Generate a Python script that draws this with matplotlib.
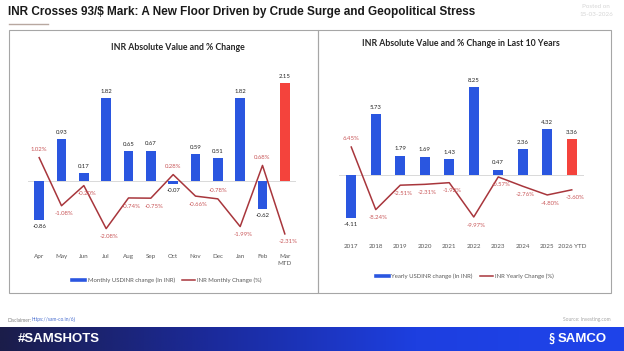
import numpy as np
import matplotlib
matplotlib.use('Agg')
import matplotlib.pyplot as plt
from matplotlib.lines import Line2D
from matplotlib.patches import Rectangle
from matplotlib.colors import LinearSegmentedColormap

# monthly data (FY: Apr -> Mar MTD)
months = ['Apr', 'May', 'Jun', 'Jul', 'Aug', 'Sep', 'Oct', 'Nov', 'Dec', 'Jan', 'Feb', 'Mar\nMTD']
monthly_chg = [-0.86, 0.93, 0.17, 1.82, 0.65, 0.67, -0.07, 0.59, 0.51, 1.82, -0.62, 2.15]
monthly_pct = [1.02, -1.08, -0.20, -2.08, -0.74, -0.75, 0.28, -0.66, -0.78, -1.99, 0.68, -2.31]

# yearly data
years = ['2017', '2018', '2019', '2020', '2021', '2022', '2023', '2024', '2025', '2026 YTD']
yearly_chg = [-4.11, 5.73, 1.79, 1.69, 1.43, 8.25, 0.47, 2.36, 4.32, 3.36]
yearly_pct = [6.45, -8.24, -2.51, -2.31, -1.92, -9.97, -0.57, -2.76, -4.80, -3.60]

# where the % labels sit relative to the line point
monthly_lbl = ['a', 'b', 'b', 'b', 'b', 'b', 'a', 'b', 'a', 'b', 'a', 'b']
yearly_lbl = ['a', 'b', 'b', 'b', 'b', 'b', 'b', 'b', 'b', 'b']

BLUE = '#2a56e0'
RED_BAR = '#f4433c'
LINE = '#a8363c'
LBL_RED = '#c9585a'

plt.rcParams['font.family'] = ['Lato', 'DejaVu Sans']

W, H = 624, 351
def box(x0, y0, x1, y1):
    return [x0 / W, 1 - y1 / H, (x1 - x0) / W, (y1 - y0) / H]

fig = plt.figure(figsize=(6.24, 3.51), dpi=100)

# header
fig.text(8 / W, 1 - 12 / H, 'INR Crosses 93/$ Mark: A New Floor Driven by Crude Surge and Geopolitical Stress',
         fontsize=8.5, fontweight='bold', family='Liberation Sans', color='#1a1a1a', va='center')
fig.add_artist(Line2D([9 / W, 48 / W], [1 - 24 / H, 1 - 24 / H], color='#b8a8a0', lw=1))
fig.text(596 / W, 1 - 7 / H, 'Posted on', fontsize=4.5, color='#d6d6d6', ha='center', va='center')
fig.text(596 / W, 1 - 15 / H, '15-03-2026', fontsize=4.5, color='#d6d6d6', ha='center', va='center')

# panel frames
for x0, x1 in [(9, 318), (318, 611)]:
    fig.add_artist(Rectangle((x0 / W, 1 - 293 / H), (x1 - x0) / W, 263 / H,
                             fill=False, ec='#a6a6a6', lw=0.8, transform=fig.transFigure))


def panel(rect, cats, vals, pcts, lbl_pos, ylim1, ylim2, title, title_xy, leg_names, leg_xy):
    ax = fig.add_axes(rect)
    x = np.arange(len(cats))
    colors = [BLUE] * (len(cats) - 1) + [RED_BAR]
    ax.bar(x, vals, width=0.42, color=colors, zorder=2)
    ax.axhline(0, color='#d9d9d9', lw=0.7, zorder=1)
    for i, v in enumerate(vals):
        ax.annotate(f'{v:.2f}', (i, v), xytext=(0, 3 if v >= 0 else -3), textcoords='offset points',
                    ha='center', va='bottom' if v >= 0 else 'top', fontsize=4.3, color='#262626')
    ax.set_xlim(-0.5, len(cats) - 0.5)
    ax.set_ylim(*ylim1)
    ax.set_xticks(x)
    ax.set_xticklabels(cats, fontsize=4.5, color='#595959', linespacing=1.5)
    ax.tick_params(axis='x', length=0, pad=3)
    ax.set_yticks([])
    for s in ax.spines.values():
        s.set_visible(False)

    ax2 = ax.twinx()
    ax2.plot(x, pcts, color=LINE, lw=1.1, zorder=3)
    for i, p in enumerate(pcts):
        up = lbl_pos[i] == 'a'
        ax2.annotate(f'{p:.2f}%', (i, p), xytext=(2 if not up else 0, 4 if up else -4),
                     textcoords='offset points', ha='center', va='bottom' if up else 'top',
                     fontsize=4.3, color=LBL_RED)
    ax2.set_ylim(*ylim2)
    ax2.set_yticks([])
    for s in ax2.spines.values():
        s.set_visible(False)

    fig.text(title_xy[0] / W, 1 - title_xy[1] / H, title, fontsize=6.3, fontweight='bold',
             color='#262626', ha='center', va='center')
    handles = [Line2D([], [], color=BLUE, lw=2.6), Line2D([], [], color=LINE, lw=1.1)]
    fig.legend(handles, leg_names, loc='center', bbox_to_anchor=(leg_xy[0] / W, 1 - leg_xy[1] / H),
               ncol=2, frameon=False, fontsize=4.3, handlelength=2.2, columnspacing=1.2,
               handletextpad=0.4, labelcolor='#595959')
    return ax


# left: zero at y=181 px, 45.5 px per INR, 22.9 px per %
panel(box(28, 72, 296, 250), months, monthly_chg, monthly_pct, monthly_lbl,
      (-69 / 45.5, 109 / 45.5), (-69 / 22.9, 109 / 22.9),
      'INR Absolute Value and % Change', (178, 47),
      ['Monthly USDINR change (In INR)', 'INR Monthly Change (%)'], (167, 280))

# right: zero at y=174.5 px, 10.6 px per INR, 4.26 px per %
panel(box(339, 75, 584, 240), years, yearly_chg, yearly_pct, yearly_lbl,
      (-65.5 / 10.6, 99.5 / 10.6), (-65.5 / 4.26, 99.5 / 4.26),
      'INR Absolute Value and % Change in Last 10 Years', (461, 44),
      ['Yearly USDINR change (In INR)', 'INR Yearly Change (%)'], (465, 276))

# footer
fig.text(8 / W, 1 - 320 / H, 'Disclaimer:', fontsize=3.5, color='#7f7f7f', va='center')
fig.text(32 / W, 1 - 320 / H, 'https://sam-co.in/6j', fontsize=3.5, color='#4a6fd0', va='center')
fig.text(611 / W, 1 - 320 / H, 'Source: Investing.com', fontsize=3.5, color='#a6a6a6', va='center', ha='right')

axf = fig.add_axes(box(0, 327, 624, 351))
grad = np.linspace(0, 1, 256).reshape(1, -1)
cmap = LinearSegmentedColormap.from_list('band', ['#1b1d4a', '#1b2a9a', '#1d3fe0', '#1f44ea'])
axf.imshow(grad, aspect='auto', cmap=cmap, extent=(0, 1, 0, 1))
axf.set_axis_off()
fig.text(18 / W, 1 - 339 / H, '#SAMSHOTS', fontsize=9.5, fontweight='bold',
         family='Liberation Sans', color='white', va='center')
fig.text(607 / W, 1 - 339 / H, 'SAMCO', fontsize=9.5, fontweight='bold',
         family='Liberation Sans', color='white', va='center', ha='right')
fig.text(555 / W, 1 - 339 / H, '\u00a7', fontsize=9, fontweight='bold', color='white',
         va='center', ha='right')

fig.savefig('out.png', dpi=100)
